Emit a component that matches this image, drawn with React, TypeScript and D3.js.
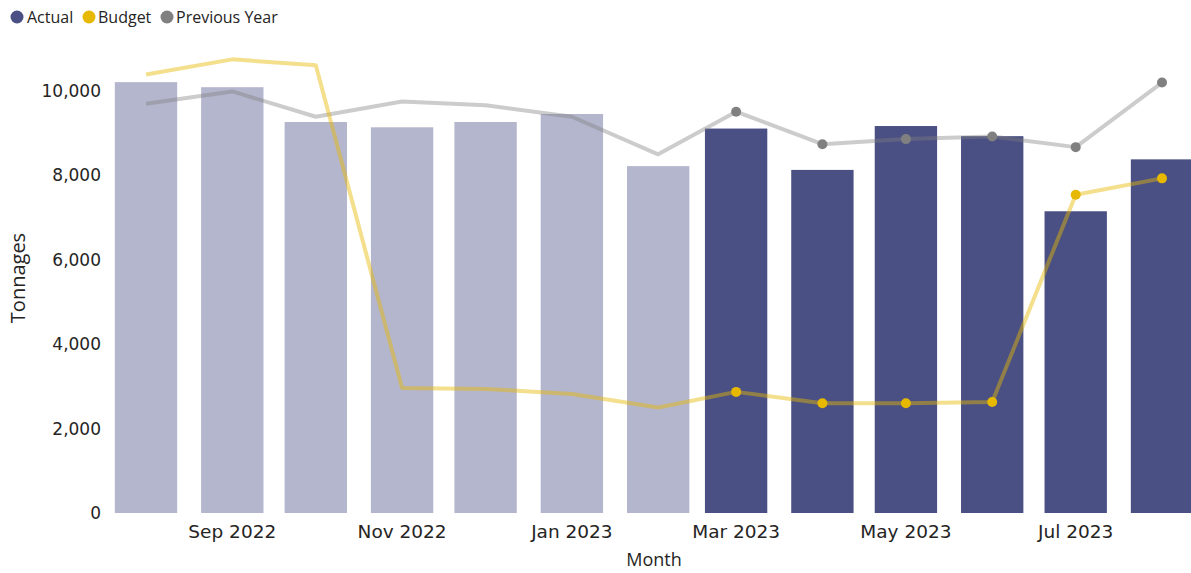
import React from "react";
import * as d3 from "d3";

const months: string[] = [
  "2022-08", "2022-09", "2022-10", "2022-11", "2022-12", "2023-01", "2023-02",
  "2023-03", "2023-04", "2023-05", "2023-06", "2023-07", "2023-08",
];
const actual: number[] = [10210, 10090, 9265, 9140, 9265, 9455, 8220, 9110, 8130, 9170, 8930, 7150, 8380];
const budget: number[] = [10390, 10750, 10610, 2960, 2940, 2820, 2500, 2870, 2600, 2600, 2630, 7540, 7930];
const previousYear: number[] = [9700, 9990, 9390, 9750, 9660, 9390, 8500, 9510, 8740, 8860, 8920, 8670, 10200];
const highlighted: boolean[] = [false, false, false, false, false, false, false, true, true, true, true, true, true];
const yTicks: number[] = [0, 2000, 4000, 6000, 8000, 10000];
const xTickMonths: string[] = ["2022-09", "2022-11", "2023-01", "2023-03", "2023-05", "2023-07"];

const W = 1191;
const H = 573;
const parse = d3.timeParse("%Y-%m");

const DARK = "#4A5083";
const FADED = "#B4B6CD";
const YELLOW = "#E6B800";
const GRAY = "#808080";

export default function App() {
  const dates = months.map((m) => parse(m) as Date);
  const x = d3
    .scaleTime()
    .domain([parse("2022-08") as Date, parse("2023-08") as Date])
    .range([146, 1162]);
  const y = d3.scaleLinear().domain([0, 10000]).range([513, 91]);
  const dayPx = (x(parse("2023-08") as Date) - x(parse("2022-08") as Date)) / 365;
  const barW = 28 * dayPx * 0.8;

  const line = d3
    .line<number>()
    .x((_, i) => x(dates[i]))
    .y((d) => y(d));

  const fmt = d3.format(",");
  const tickFmt = d3.timeFormat("%b %Y");

  const legend = [
    { label: "Actual", color: DARK, cx: 17, tx: 27 },
    { label: "Budget", color: YELLOW, cx: 89, tx: 98 },
    { label: "Previous Year", color: GRAY, cx: 167, tx: 176 },
  ];

  return (
    <svg
      width={W}
      height={H}
      style={{ position: "absolute", left: 0, top: 0, overflow: "hidden", background: "#fff" }}
    >
      {legend.map((l) => (
        <g key={l.label}>
          <circle cx={l.cx} cy={17} r={6.5} fill={l.color} />
          <text
            x={l.tx}
            y={17}
            dy="0.35em"
            fontFamily="'Open Sans', sans-serif"
            fontSize={16}
            fill="#252423"
          >
            {l.label}
          </text>
        </g>
      ))}

      {yTicks.map((t) => (
        <text
          key={t}
          x={101}
          y={y(t)}
          dy="0.35em"
          textAnchor="end"
          fontFamily="'DejaVu Sans', sans-serif"
          fontSize={17}
          fill="#252423"
        >
          {fmt(t)}
        </text>
      ))}

      {xTickMonths.map((m) => {
        const d = parse(m) as Date;
        return (
          <text
            key={m}
            x={x(d)}
            y={532}
            dy="0.35em"
            textAnchor="middle"
            fontFamily="'DejaVu Sans', sans-serif"
            fontSize={18.5}
            fill="#252423"
          >
            {tickFmt(d)}
          </text>
        );
      })}

      <text
        x={654}
        y={560}
        dy="0.35em"
        textAnchor="middle"
        fontFamily="'Open Sans', sans-serif"
        fontSize={18}
        fill="#252423"
      >
        Month
      </text>
      <text
        transform={`translate(18,278) rotate(-90)`}
        dy="0.35em"
        textAnchor="middle"
        fontFamily="'Open Sans', sans-serif"
        fontSize={20}
        fill="#252423"
      >
        Tonnages
      </text>

      {actual.map((v, i) => (
        <rect
          key={months[i]}
          x={x(dates[i]) - barW / 2}
          y={y(v)}
          width={barW}
          height={y(0) - y(v)}
          fill={highlighted[i] ? DARK : FADED}
        />
      ))}

      <path d={line(previousYear) || ""} fill="none" stroke={GRAY} strokeWidth={4} strokeOpacity={0.4} strokeLinejoin="round" />
      <path d={line(budget) || ""} fill="none" stroke={YELLOW} strokeWidth={4} strokeOpacity={0.45} strokeLinejoin="round" />

      {previousYear.map((v, i) =>
        highlighted[i] ? <circle key={"p" + i} cx={x(dates[i])} cy={y(v)} r={5} fill={GRAY} /> : null
      )}
      {budget.map((v, i) =>
        highlighted[i] ? <circle key={"b" + i} cx={x(dates[i])} cy={y(v)} r={5} fill={YELLOW} /> : null
      )}
    </svg>
  );
}
